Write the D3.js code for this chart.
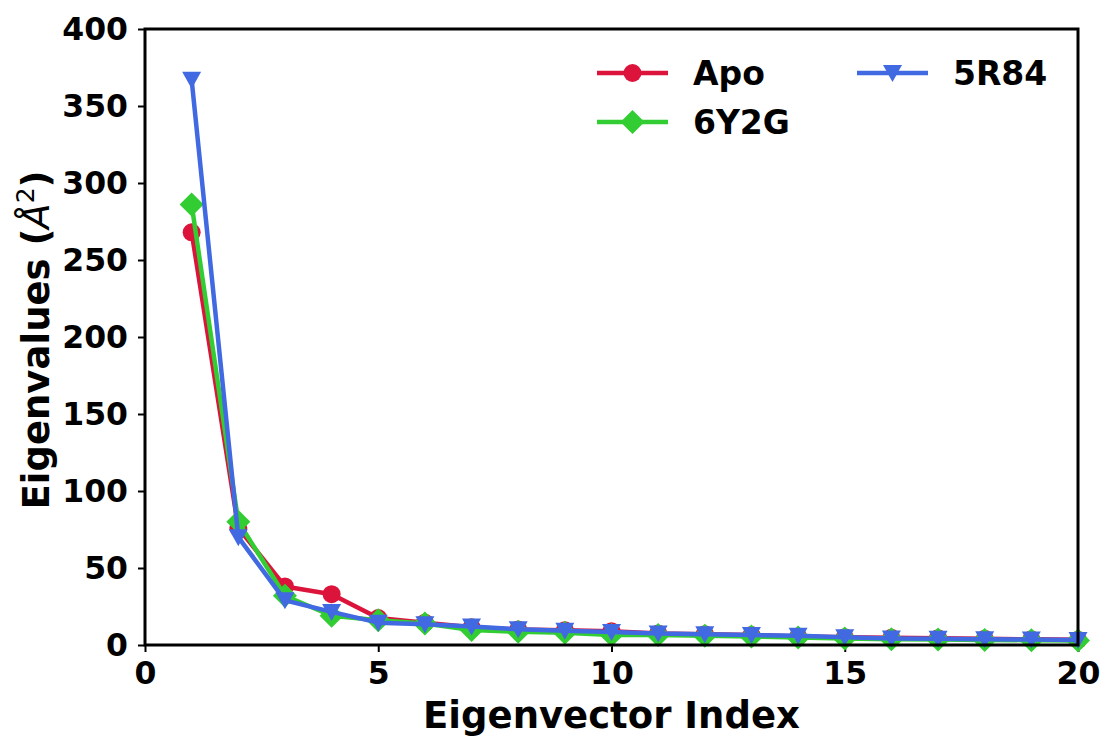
<!DOCTYPE html>
<html><head><meta charset="utf-8">
<script src="https://cdn.jsdelivr.net/npm/d3@7"></script>
<style>
html,body{margin:0;padding:0;background:#fff;}
text{font-family:"DejaVu Sans",sans-serif;font-weight:bold;fill:#000;}
</style></head>
<body>
<svg id="c" width="1106" height="738"></svg>
<script>
const indices = [1,2,3,4,5,6,7,8,9,10,11,12,13,14,15,16,17,18,19,20];
const apo  = [268,76,38,33,17.5,14.5,11.5,10,9.5,9,7.5,7,6.5,5.5,5,4.7,4.4,4,3.7,3.4];
const y6y2g= [286,80,32,19,16,14,9.7,8.6,8,6.5,6.5,6,5.5,4.8,4.2,3.8,3.6,3.3,3.1,2.9];
const r5r84= [367,70,29,21.5,14.5,13.5,12,10.2,9.3,8.5,7.5,7,6.5,6,5,4.3,4,3.8,3.5,3.2];
const xTicks = [0,5,10,15,20];
const yTicks = [0,50,100,150,200,250,300,350,400];
const seriesNames = ["Apo","6Y2G","5R84"];
const seriesColors = ["#DC143C","#32CD32","#4169E1"];

const svg = d3.select("#c");
const L=145, R=1078, T=29, B=645;
const x = d3.scaleLinear().domain([0,20]).range([L,R]);
const y = d3.scaleLinear().domain([0,400]).range([B,T]);

const fs = 31.5;
const xa = svg.append("g").attr("transform",`translate(0,${B})`)
  .call(d3.axisBottom(x).tickValues(xTicks).tickSize(7).tickPadding(10).tickFormat(d3.format("d")));
const ya = svg.append("g").attr("transform",`translate(${L},0)`)
  .call(d3.axisLeft(y).tickValues(yTicks).tickSize(7).tickPadding(10).tickFormat(d3.format("d")));
[xa,ya].forEach(a=>{
  a.select(".domain").remove();
  a.selectAll(".tick line").attr("stroke","#000").attr("stroke-width",2);
  a.selectAll(".tick text").style("font-size",fs+"px").style("font-family","DejaVu Sans").style("font-weight","bold").attr("fill","#000");
});

const data = [apo,y6y2g,r5r84];
const line = d3.line().x((d,i)=>x(indices[i])).y(d=>y(d));

function marker(g, k, cx, cy, color){
  if(k===0){
    g.append("circle").attr("cx",cx).attr("cy",cy).attr("r",9).attr("fill",color);
  } else if(k===1){
    const s=12;
    g.append("path").attr("d",`M${cx},${cy-s}L${cx+s},${cy}L${cx},${cy+s}L${cx-s},${cy}Z`).attr("fill",color);
  } else {
    const s=9.5;
    g.append("path").attr("d",`M${cx-s},${cy-8}L${cx+s},${cy-8}L${cx},${cy+9}Z`).attr("fill",color);
  }
}

const plot = svg.append("g");
data.forEach((vals,k)=>{
  const g = plot.append("g");
  g.append("path").attr("d",line(vals)).attr("fill","none").attr("stroke",seriesColors[k]).attr("stroke-width",4.5).attr("stroke-linejoin","round");
  vals.forEach((v,i)=>marker(g,k,x(indices[i]),y(v),seriesColors[k]));
});

svg.append("rect").attr("x",L).attr("y",T).attr("width",R-L).attr("height",B-T)
  .attr("fill","none").attr("stroke","#000").attr("stroke-width",3);

const leg = [
  {k:0, x0:597, y0:73, tx:693, ty:85},
  {k:1, x0:597, y0:122, tx:693, ty:133.5},
  {k:2, x0:857, y0:73, tx:953, ty:85}
];
leg.forEach(o=>{
  const g=svg.append("g");
  g.append("line").attr("x1",o.x0).attr("x2",o.x0+71).attr("y1",o.y0).attr("y2",o.y0)
    .attr("stroke",seriesColors[o.k]).attr("stroke-width",4.5);
  marker(g,o.k,o.x0+35.5,o.y0,seriesColors[o.k]);
  g.append("text").attr("x",o.tx).attr("y",o.ty).style("font-size","33px").text(seriesNames[o.k]);
});

svg.append("text").attr("x",(L+R)/2).attr("y",728).attr("text-anchor","middle")
  .style("font-size","37px").text("Eigenvector Index");

const yl = svg.append("text").attr("transform",`translate(49,340) rotate(-90)`).attr("text-anchor","middle")
  .style("font-size","37px");
yl.append("tspan").text("Eigenvalues (");
yl.append("tspan").style("font-style","italic").style("font-weight","normal").text("Å");
yl.append("tspan").style("font-weight","normal").style("font-size","25px").attr("dy",-15).text("2");
yl.append("tspan").attr("dy",15).text(")");
</script>
</body></html>
